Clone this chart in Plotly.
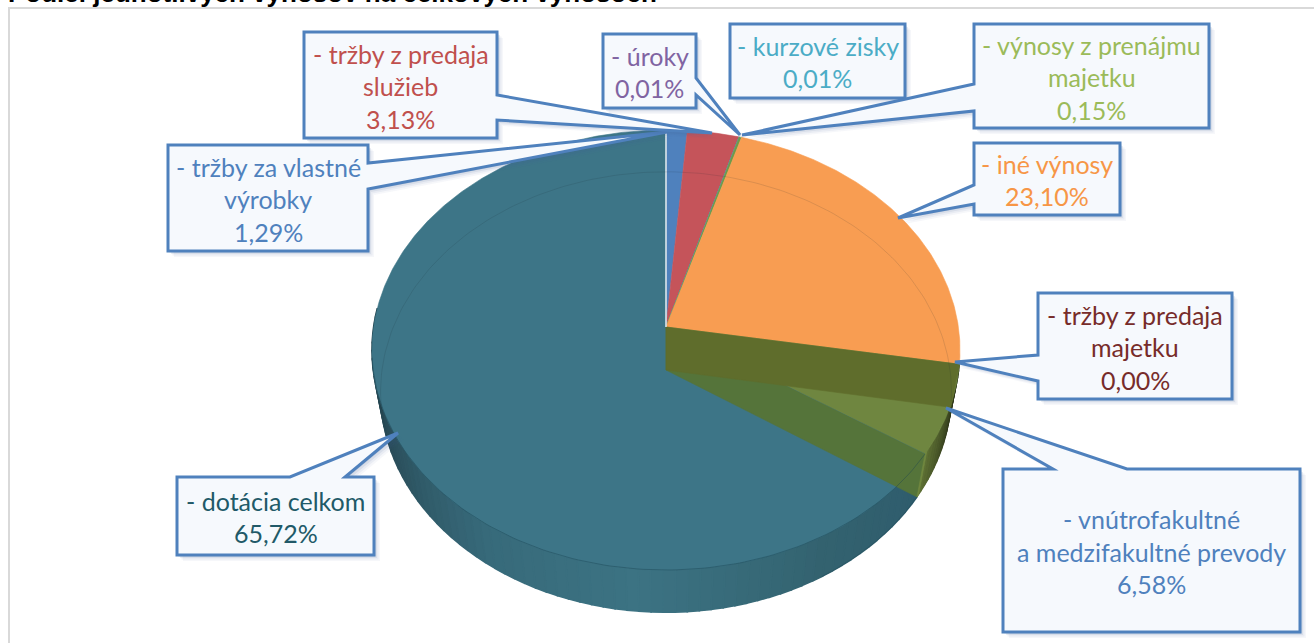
import numpy as np
import plotly.graph_objects as go

# ---- data -----------------------------------------------------------------
slice_names = ["tržby za vlastné výrobky", "tržby z predaja služieb", "úroky", "kurzové zisky",
               "výnosy z prenájmu majetku", "iné výnosy", "tržby z predaja majetku",
               "vnútrofakultné a medzifakultné prevody", "dotácia celkom"]
slice_shares = [1.29, 3.13, 0.01, 0.01, 0.15, 23.10, 0.00, 6.58, 65.72]
slice_colors = ["#4F81BD", "#C5545A", "#8064A2", "#4BACC6", "#6E9A4A", "#F89D52", "#772C2A", "#6F8640", "#3D7587"]
label_lines = [["- tržby za vlastné", "výrobky", "1,29%"],
               ["- tržby z predaja", "služieb", "3,13%"],
               ["- úroky", "0,01%"],
               ["- kurzové zisky", "0,01%"],
               ["- výnosy z prenájmu", "majetku", "0,15%"],
               ["- iné výnosy", "23,10%"],
               ["- tržby z predaja", "majetku", "0,00%"],
               ["- vnútrofakultné", "a medzifakultné prevody", "6,58%"],
               ["- dotácia celkom", "65,72%"]]
label_colors = ["#4F81BD", "#C0504D", "#8064A2", "#4BACC6", "#9BBB59", "#F79646", "#772C2A", "#4F81BD", "#215968"]
title_text = "Podiel jednotlivých výnosov na celkových výnosoch"

# ---- layout geometry (page pixels) ------------------------------------------
W, H = 1314, 643
CX = 666
TOP = dict(y0=327, R=292.4, H=217.6, k=0.1045)
BOT = dict(y0=370, R=284.0, H=218.0, k=0.1000)
# callouts: box (x0, y0, x1, y1), pointer base A, pointer base B, tip
callouts = [
    ((168, 145, 368, 251), (368, 163), (368, 189), (667, 132)),
    ((304, 32, 497, 138), (497, 95), (497, 120), (712, 133)),
    ((603, 34, 696, 108), (696, 78), (696, 95), (740, 135)),
    ((730, 24, 905, 98), (760, 98), (802, 98), (741, 135)),
    ((974, 24, 1209, 128), (974, 84), (974, 111), (742, 135)),
    ((974, 143, 1120, 215), (974, 185), (974, 204), (898, 218)),
    ((1038, 293, 1232, 399), (1038, 355), (1038, 381), (955, 362)),
    ((1003, 469, 1300, 632), (1053, 469), (1127, 469), (946, 408)),
    ((177, 477, 374, 555), (290, 477), (345, 477), (398, 433)),
]
LINE_H = 32.5
LABEL_DY = 1
FONT = "Lato"
FS = 25

def pt(deg, f):
    a = np.radians(deg)
    u, v = np.sin(a), np.cos(a)
    d = 1 + f["k"] * v
    return CX + f["R"] * u / d, f["y0"] - f["H"] * v / d

def arc(a, b, f, n=80):
    return pt(np.linspace(a, b, n), f)

cum = np.concatenate([[0], np.cumsum(slice_shares)]) * 360 / sum(slice_shares)
green_a, green_b = cum[7], cum[8]

fig = go.Figure()

def poly(x, y, color, lw=0.6):
    fig.add_trace(go.Scatter(x=list(x), y=list(y), mode="lines", fill="toself", fillcolor=color,
                             line=dict(color=color, width=lw),
                             hoverinfo="skip", showlegend=False))

def curve(x, y, color, lw=1):
    fig.add_trace(go.Scatter(x=list(x), y=list(y), mode="lines", line=dict(color=color, width=lw),
                             hoverinfo="skip", showlegend=False))

def mix(c1, c2, t):
    a = [int(c1[i:i + 2], 16) for i in (1, 3, 5)]
    b = [int(c2[i:i + 2], 16) for i in (1, 3, 5)]
    return "#%02x%02x%02x" % tuple(int(round(p + (q - p) * t)) for p, q in zip(a, b))

# outer wall of the large slice, shaded along the rim
stops = [(green_b, "#2F5C6D"), (150, "#33626F"), (185, "#3C7383"), (215, "#376A7A"), (245, "#2B4F5C"), (275, "#1E3A44")]
angs = np.linspace(green_b, 275, 70)
for s, e in zip(angs[:-1], angs[1:]):
    m = (s + e) / 2
    for (a0, c0), (a1, c1) in zip(stops[:-1], stops[1:]):
        if a0 <= m <= a1:
            col = mix(c0, c1, (m - a0) / (a1 - a0))
            break
    xt, yt = arc(s, e, TOP, 4)
    xb, yb = arc(e, s, BOT, 4)
    poly(np.r_[xt, xb, xt[0]], np.r_[yt, yb, yt[0]], col, 1.6)

# outer wall of the olive slice
angs = np.linspace(green_a, green_b, 16)
for i, (s, e) in enumerate(zip(angs[:-1], angs[1:])):
    col = mix("#1E2210", "#5C6E33", i / (len(angs) - 2))
    xt, yt = arc(s, e, TOP, 4)
    xb, yb = arc(e, s, BOT, 4)
    poly(np.r_[xt, xb, xt[0]], np.r_[yt, yb, yt[0]], col, 1.2)

# top faces
for a, b, c in zip(cum[:-1], cum[1:], slice_colors):
    if b - a <= 0:
        continue
    xs, ys = arc(a, b, TOP, max(3, int((b - a) * 2)))
    poly(np.r_[CX, xs, CX], np.r_[TOP["y0"], ys, TOP["y0"]], c)

# inner walls seen through the translucent pie
xc, yc = pt(green_b, TOP)
xd, yd = pt(green_b, BOT)
poly([CX, xc, xd, CX, CX], [TOP["y0"], yc, yd, BOT["y0"], TOP["y0"]], "#55743A")
xc, yc = pt(green_a, TOP)
xd, yd = pt(green_a, BOT)
poly([CX, xc, xd, CX, CX], [TOP["y0"], yc, yd, BOT["y0"], TOP["y0"]], "#5F6D2C")
# vertical edge at the olive corner
xs, ys = arc(green_b - 0.7, green_b, TOP, 3)
xb, yb = arc(green_b, green_b - 0.7, BOT, 3)
poly(np.r_[xs, xb, xs[0]], np.r_[ys, yb, ys[0]], "#71883F")

# seam between first and last slice
xs, ys = pt(0.0, TOP)
curve([CX, xs], [TOP["y0"], ys], "#E8EEF3", 1.5)

# far rim of the base and near rim of the top, faint through the pie
xb, yb = arc(-100, 98, BOT, 160)
curve(xb, yb, "rgba(20,40,50,0.13)", 1)
xt, yt = arc(green_b, 262, TOP, 120)
curve(xt, yt, "rgba(25,65,80,0.4)", 1)
xt, yt = arc(green_b, 150, BOT, 40)
curve(xt, yt, "rgba(25,65,80,0.3)", 1)

# ---- callouts ----------------------------------------------------------------
shapes = [dict(type="rect", xref="x", yref="y", x0=9, y0=8, x1=W + 5, y1=H + 5,
               line=dict(color="#D9D9D9", width=2), fillcolor="white", layer="below")]

def callout_path(box, a, b, tip, off=0.0):
    x0, y0, x1, y1 = box
    pts = [(x0, y0)]
    on_left = a[0] == x0
    on_right = a[0] == x1
    on_top = a[1] == y0 and not on_left and not on_right
    if on_top:
        pts += [a, tip, b]
    pts.append((x1, y0))
    if on_right:
        pts += [a, tip, b]
    pts.append((x1, y1))
    pts.append((x0, y1))
    if on_left:
        pts += [b, tip, a]
    return "M" + " L".join(f"{p[0] + off},{p[1] + off}" for p in pts) + " Z"

for box, a, b, tip in callouts:
    for off, alpha in ((6, 0.05), (4.5, 0.07), (3, 0.10), (1.5, 0.14)):
        shapes.append(dict(type="path", xref="x", yref="y", path=callout_path(box, a, b, tip, off),
                           fillcolor=f"rgba(70,100,150,{alpha})", line=dict(width=0), layer="above"))
    shapes.append(dict(type="path", xref="x", yref="y", path=callout_path(box, a, b, tip),
                       fillcolor="#F6F9FD", line=dict(color="#4F81BD", width=3), layer="above"))

annotations = [dict(x=8, y=8, xref="x", yref="y", xanchor="left", yanchor="bottom", text=f"<b>{title_text}</b>",
                    showarrow=False, font=dict(family="Liberation Sans", size=26, color="black"),
                    borderpad=0, borderwidth=0)]
for (box, _, _, _), lines, color in zip(callouts, label_lines, label_colors):
    cx = (box[0] + box[2]) / 2
    cy = (box[1] + box[3]) / 2 + LABEL_DY
    for i, ln in enumerate(lines):
        annotations.append(dict(x=cx, y=cy + (i - (len(lines) - 1) / 2) * LINE_H, xref="x", yref="y",
                                text=ln, showarrow=False, xanchor="center", yanchor="middle",
                                font=dict(family=FONT, size=FS, color=color)))

fig.update_layout(
    width=W, height=H, margin=dict(l=0, r=0, t=0, b=0), paper_bgcolor="white", plot_bgcolor="white",
    showlegend=False, shapes=shapes, annotations=annotations,
    xaxis=dict(range=[0, W], visible=False, fixedrange=True),
    yaxis=dict(range=[H, 0], visible=False, fixedrange=True),
)
fig.write_html("out.html", config={"displayModeBar": False},
               post_script="document.body.style.margin='0';document.documentElement.style.overflow='hidden';")
